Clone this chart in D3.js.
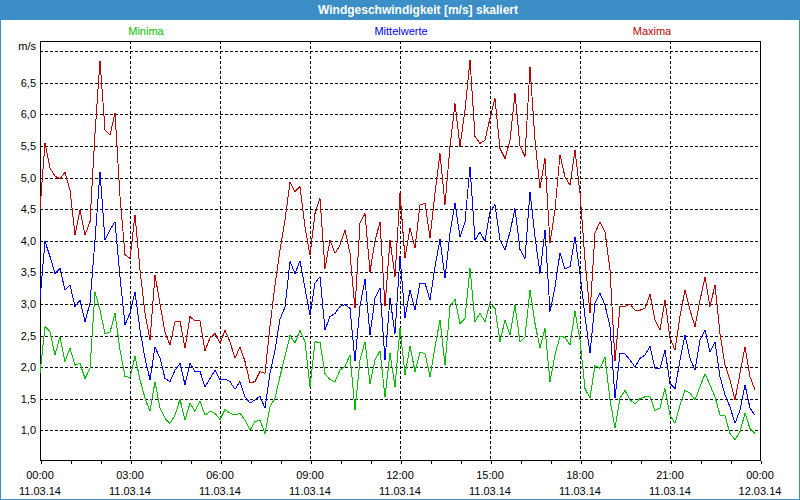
<!DOCTYPE html>
<html><head><meta charset="utf-8">
<script src="https://cdn.jsdelivr.net/npm/d3@7"></script>
<style>body{margin:0;background:#fff}svg{display:block}</style>
</head><body>
<svg id="c" width="800" height="500"></svg>
<script>
// ---- data (10-minute values, 11.03.14 00:00 .. 23:50) ----
const maxima = [
 4.5, 5.55, 5.15, 5.02, 4.98, 5.08, 4.8, 4.09, 4.49, 4.09, 4.3, 5.7,
 6.85, 5.75, 5.67, 6.02, 4.7, 3.78, 3.72, 4.41, 3.54, 2.85, 2.43, 3.46,
 3.0, 2.55, 2.35, 2.72, 2.73, 2.3, 2.8, 2.73, 2.73, 2.26, 2.46, 2.53,
 2.38, 2.58, 2.4, 2.14, 2.32, 2.09, 1.75, 1.77, 1.93, 1.9, 2.65, 3.3,
 3.85, 4.33, 4.92, 4.78, 4.86, 4.22, 3.77, 4.43, 4.67, 3.56, 4.01, 3.8,
 3.93, 4.17, 3.8, 2.93, 4.28, 4.43, 3.51, 3.99, 4.3, 2.96, 4.01, 3.43,
 4.75, 3.72, 4.2, 3.88, 4.57, 4.59, 4.04, 4.75, 5.38, 4.57, 5.49, 6.17,
 5.49, 6.07, 6.86, 5.65, 5.54, 5.59, 5.94, 6.25, 5.46, 5.3, 5.59, 6.33,
 5.5, 5.33, 6.75, 5.59, 4.83, 5.3, 3.96, 4.49, 5.36, 5.01, 4.88, 5.44,
 4.75, 3.7, 2.85, 4.12, 4.3, 4.14, 3.54, 2.1, 2.96, 2.96, 3.0, 2.9,
 2.9, 2.93, 3.15, 2.75, 2.59, 3.06, 2.46, 2.27, 2.8, 3.22, 2.9, 2.64,
 3.06, 3.42, 2.96, 3.3, 2.53, 2.03, 1.8, 1.48, 1.9, 2.32, 1.85, 1.64
];
const mittelwerte = [
 3.07, 3.99, 3.75, 3.48, 3.56, 3.22, 3.3, 2.96, 3.06, 2.72, 3.01, 4.01,
 5.09, 4.01, 4.17, 4.3, 3.43, 2.67, 2.85, 3.19, 2.59, 2.14, 1.8, 2.32,
 2.14, 1.82, 1.77, 1.95, 2.06, 1.72, 2.06, 1.93, 1.93, 1.69, 1.82, 1.95,
 1.8, 1.81, 1.77, 1.65, 1.77, 1.53, 1.43, 1.48, 1.54, 1.35, 1.9, 2.27,
 2.76, 2.95, 3.67, 3.48, 3.68, 3.25, 2.82, 3.33, 3.43, 2.59, 2.8, 2.85,
 2.96, 2.99, 2.93, 2.09, 2.96, 3.39, 2.51, 3.09, 3.25, 2.11, 3.09, 2.53,
 3.75, 2.78, 3.22, 2.9, 3.33, 3.33, 3.06, 3.59, 4.02, 3.41, 4.12, 4.59,
 4.06, 4.3, 5.17, 4.01, 4.14, 3.99, 4.46, 4.57, 4.01, 3.85, 4.14, 4.51,
 3.86, 3.72, 4.77, 4.06, 3.48, 4.17, 2.88, 3.27, 3.81, 3.55, 3.59, 4.06,
 3.48, 2.8, 2.22, 3.01, 3.17, 2.98, 2.64, 1.51, 2.22, 2.21, 2.11, 2.0,
 2.14, 2.19, 2.33, 1.98, 1.98, 2.27, 1.74, 1.66, 2.11, 2.51, 2.14, 1.95,
 2.43, 2.59, 2.24, 2.4, 1.85, 1.56, 1.37, 1.11, 1.32, 1.72, 1.35, 1.24
];
const minima = [
 1.9, 2.64, 2.56, 2.19, 2.48, 2.09, 2.3, 2.03, 2.06, 1.82, 1.98, 3.19,
 2.9, 2.53, 2.55, 2.85, 2.27, 1.85, 1.84, 2.17, 1.8, 1.51, 1.3, 1.77,
 1.35, 1.19, 1.11, 1.24, 1.49, 1.16, 1.43, 1.3, 1.46, 1.24, 1.3, 1.27,
 1.17, 1.33, 1.27, 1.24, 1.27, 1.16, 1.0, 1.14, 1.16, 0.95, 1.37, 1.51,
 1.85, 2.17, 2.5, 2.38, 2.58, 2.4, 1.69, 2.4, 2.39, 1.9, 1.8, 1.77,
 1.95, 2.01, 2.19, 1.32, 2.11, 2.4, 1.74, 2.11, 2.26, 1.53, 2.22, 1.69,
 2.62, 1.88, 2.33, 1.93, 2.24, 2.21, 1.85, 2.32, 2.75, 2.03, 2.96, 3.07,
 2.69, 2.77, 3.56, 2.72, 2.85, 2.72, 3.01, 2.93, 2.4, 2.75, 2.51, 2.98,
 2.4, 2.48, 3.22, 2.69, 2.3, 2.61, 1.77, 2.19, 2.49, 2.47, 2.35, 2.88,
 2.43, 1.66, 1.51, 2.03, 1.98, 2.16, 1.48, 1.03, 1.51, 1.63, 1.48, 1.42,
 1.5, 1.53, 1.53, 1.31, 1.35, 1.66, 1.24, 1.11, 1.4, 1.63, 1.59, 1.48,
 1.69, 1.89, 1.72, 1.53, 1.24, 1.23, 0.95, 0.85, 0.98, 1.27, 1.03, 0.95
];
const stepMinutes = 10;
const seriesNames = ["Minima", "Mittelwerte", "Maxima"];
const seriesColors = ["#00c000", "#0000ff", "#c00000"];
const yTickValues = [1.0, 1.5, 2.0, 2.5, 3.0, 3.5, 4.0, 4.5, 5.0, 5.5, 6.0, 6.5];
const yGridValues = [1.0, 1.5, 2.0, 2.5, 3.0, 3.5, 4.0, 4.5, 5.0, 5.5, 6.0, 6.5, 7.0];
const xTickHours = [0, 3, 6, 9, 12, 15, 18, 21, 24];
const timeLabels = ["00:00", "03:00", "06:00", "09:00", "12:00", "15:00", "18:00", "21:00", "00:00"];
const dateLabels = ["11.03.14", "11.03.14", "11.03.14", "11.03.14", "11.03.14", "11.03.14", "11.03.14", "11.03.14", "12.03.14"];
const titleText = "Windgeschwindigkeit [m/s] skaliert";
const unitText = "m/s";

// ---- layout ----
const W = 800, H = 500;
const pL = 40, pR = 760, pT = 41, pB = 460;
const font = "'Liberation Sans', Arial, sans-serif";
const svg = d3.select("#c");

// window frame + title bar
svg.append("rect").attr("x", 0).attr("y", 0).attr("width", W).attr("height", H).attr("fill", "#fff");
svg.append("rect").attr("x", 0).attr("y", 0).attr("width", W).attr("height", 20).attr("fill", "#3c8ec6");
svg.append("rect").attr("x", 0.5).attr("y", 0.5).attr("width", W - 1).attr("height", H - 1)
  .attr("fill", "none").attr("stroke", "#3c8ec6").attr("stroke-width", 1);
svg.append("text").attr("x", W / 2 + 18).attr("y", 14).attr("text-anchor", "middle")
  .attr("font-family", font).attr("font-size", 12).attr("font-weight", "bold").attr("fill", "#fff")
  .attr("textLength", 200).attr("lengthAdjust", "spacingAndGlyphs")
  .text(titleText);

// scales
const x = d3.scaleLinear().domain([0, 24]).range([pL, pR]);
const y = d3.scaleLinear().domain([1.0, 6.5]).range([430.3, 82.7]);

// grid
const g = svg.append("g").attr("shape-rendering", "crispEdges");
g.selectAll("line.hg").data(yGridValues).join("line").attr("class", "hg")
  .attr("x1", pL).attr("x2", pR)
  .attr("y1", d => Math.round(y(d)) + 0.5).attr("y2", d => Math.round(y(d)) + 0.5)
  .attr("stroke", "#000").attr("stroke-dasharray", "3,2");
g.selectAll("line.vg").data(xTickHours.slice(1, -1)).join("line").attr("class", "vg")
  .attr("y1", pT).attr("y2", pB)
  .attr("x1", d => Math.round(x(d)) + 0.5).attr("x2", d => Math.round(x(d)) + 0.5)
  .attr("stroke", "#000").attr("stroke-dasharray", "3,2");

// frame
g.append("rect").attr("x", pL + 0.5).attr("y", pT + 0.5)
  .attr("width", pR - pL).attr("height", pB - pT)
  .attr("fill", "none").attr("stroke", "#000");

// x axis minor ticks (hourly)
const xAxis = d3.axisBottom(x).tickValues(d3.range(0, 25, 1)).tickSize(3).tickFormat("");
const xa = svg.append("g").attr("transform", `translate(0.5,${pB + 0.5})`).attr("shape-rendering", "crispEdges").call(xAxis);
xa.select(".domain").remove();

// x labels
const xl = svg.append("g").attr("font-family", font).attr("font-size", 11).attr("fill", "#000");
xl.selectAll("text").data(xTickHours).join("text")
  .attr("text-anchor", "middle")
  .each(function (d, i) {
    const t = d3.select(this);
    t.append("tspan").attr("x", x(d)).attr("y", 479).text(timeLabels[i]);
    t.append("tspan").attr("x", x(d)).attr("y", 495).text(dateLabels[i]);
  });

// y axis labels
const yAxis = d3.axisLeft(y).tickValues(yTickValues).tickSize(0).tickPadding(4)
  .tickFormat(d => d.toFixed(1).replace(".", ","));
const ya = svg.append("g").attr("transform", `translate(${pL},0)`).call(yAxis);
ya.select(".domain").remove();
ya.selectAll("text").attr("font-family", font).attr("font-size", 11).attr("fill", "#000");
svg.append("text").attr("x", 36).attr("y", 50).attr("text-anchor", "end")
  .attr("font-family", font).attr("font-size", 11).attr("fill", "#000").text(unitText);

// legend
const legendX = [146, 401, 652];
svg.append("g").selectAll("text").data(seriesNames).join("text")
  .attr("x", (d, i) => legendX[i]).attr("y", 35).attr("text-anchor", "middle")
  .attr("font-family", font).attr("font-size", 11)
  .attr("fill", (d, i) => seriesColors[i]).text(d => d);

// lines
const line = d3.line().x((d, i) => x(i * stepMinutes / 60)).y(d => y(d));
const series = [minima, mittelwerte, maxima];
svg.append("g").attr("shape-rendering", "crispEdges").selectAll("path").data(series).join("path")
  .attr("d", d => line(d)).attr("fill", "none")
  .attr("stroke", (d, i) => seriesColors[i]).attr("stroke-width", 1);
</script>
</body></html>
